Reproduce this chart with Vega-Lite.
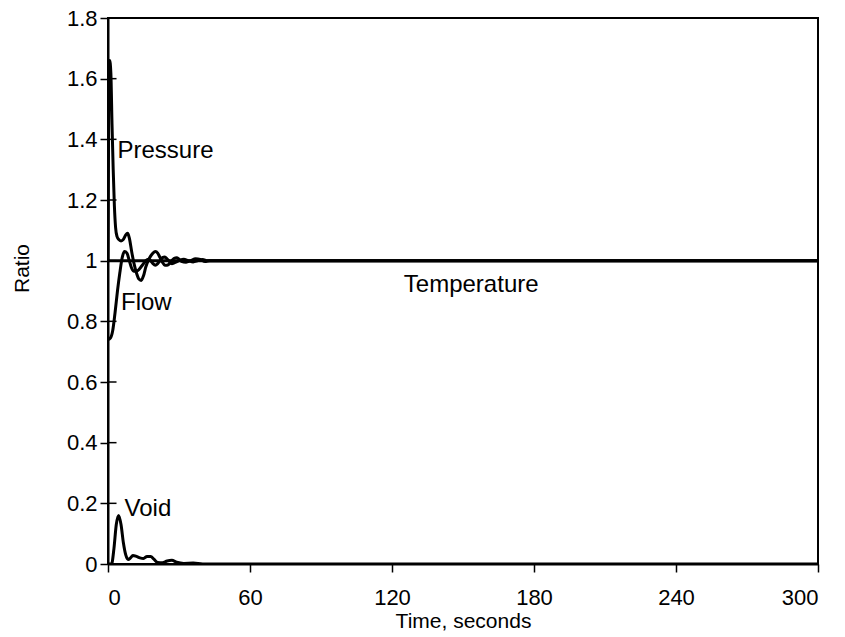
{
  "$schema": "https://vega.github.io/schema/vega-lite/v6.json",
  "width": 710,
  "height": 546,
  "autosize": "none",
  "padding": {"left": 108, "top": 18, "right": 27, "bottom": 73},
  "background": "white",
  "config": {
    "font": "Liberation Sans",
    "view": {"stroke": "black", "strokeWidth": 2},
    "axis": {"grid": false, "domainColor": "black", "domainWidth": 2, "tickColor": "black", "tickWidth": 1.5, "labelColor": "black", "titleColor": "black", "labelFont": "Liberation Sans", "titleFont": "Liberation Sans", "labelFontSize": 22, "titleFontSize": 21, "titleFontWeight": "normal"}
  },
  "datasets": {
    "curves": [
      {"series": "Temperature", "t": 0, "v": 1.0},
      {"series": "Temperature", "t": 300, "v": 1.0},
      {"series": "Pressure", "t": 0, "v": 1.0},
      {"series": "Pressure", "t": 0.3, "v": 1.5},
      {"series": "Pressure", "t": 0.7, "v": 1.66},
      {"series": "Pressure", "t": 1.2, "v": 1.62},
      {"series": "Pressure", "t": 1.7, "v": 1.45},
      {"series": "Pressure", "t": 2.2, "v": 1.3},
      {"series": "Pressure", "t": 2.7, "v": 1.18},
      {"series": "Pressure", "t": 3.2, "v": 1.11},
      {"series": "Pressure", "t": 3.8, "v": 1.08},
      {"series": "Pressure", "t": 4.5, "v": 1.07},
      {"series": "Pressure", "t": 5.5, "v": 1.065},
      {"series": "Pressure", "t": 6.5, "v": 1.07},
      {"series": "Pressure", "t": 7.5, "v": 1.085},
      {"series": "Pressure", "t": 8.3, "v": 1.09},
      {"series": "Pressure", "t": 9, "v": 1.075},
      {"series": "Pressure", "t": 10, "v": 1.03},
      {"series": "Pressure", "t": 11, "v": 0.99},
      {"series": "Pressure", "t": 12, "v": 0.96},
      {"series": "Pressure", "t": 13, "v": 0.94},
      {"series": "Pressure", "t": 14, "v": 0.935},
      {"series": "Pressure", "t": 15, "v": 0.95},
      {"series": "Pressure", "t": 16, "v": 0.98},
      {"series": "Pressure", "t": 17, "v": 1.0},
      {"series": "Pressure", "t": 18, "v": 1.015},
      {"series": "Pressure", "t": 19, "v": 1.025},
      {"series": "Pressure", "t": 20, "v": 1.03},
      {"series": "Pressure", "t": 21, "v": 1.025},
      {"series": "Pressure", "t": 22, "v": 1.01},
      {"series": "Pressure", "t": 23, "v": 0.995},
      {"series": "Pressure", "t": 24, "v": 0.985},
      {"series": "Pressure", "t": 25, "v": 0.985},
      {"series": "Pressure", "t": 26, "v": 0.99},
      {"series": "Pressure", "t": 27, "v": 1.0},
      {"series": "Pressure", "t": 28, "v": 1.008},
      {"series": "Pressure", "t": 29, "v": 1.01},
      {"series": "Pressure", "t": 30, "v": 1.005},
      {"series": "Pressure", "t": 31, "v": 0.998},
      {"series": "Pressure", "t": 33, "v": 0.995},
      {"series": "Pressure", "t": 35, "v": 1.0},
      {"series": "Pressure", "t": 37, "v": 1.006},
      {"series": "Pressure", "t": 39, "v": 1.004},
      {"series": "Pressure", "t": 41, "v": 0.997},
      {"series": "Pressure", "t": 43, "v": 1.0},
      {"series": "Pressure", "t": 300, "v": 1.0},
      {"series": "Flow", "t": 0, "v": 0.74},
      {"series": "Flow", "t": 1, "v": 0.745},
      {"series": "Flow", "t": 2, "v": 0.77},
      {"series": "Flow", "t": 3, "v": 0.83},
      {"series": "Flow", "t": 4, "v": 0.9},
      {"series": "Flow", "t": 5, "v": 0.96},
      {"series": "Flow", "t": 6, "v": 1.01},
      {"series": "Flow", "t": 7, "v": 1.03},
      {"series": "Flow", "t": 8, "v": 1.025},
      {"series": "Flow", "t": 9, "v": 1.0},
      {"series": "Flow", "t": 10, "v": 0.975},
      {"series": "Flow", "t": 11, "v": 0.965},
      {"series": "Flow", "t": 12, "v": 0.965},
      {"series": "Flow", "t": 13, "v": 0.97},
      {"series": "Flow", "t": 14, "v": 0.98},
      {"series": "Flow", "t": 15, "v": 0.99},
      {"series": "Flow", "t": 16, "v": 1.0},
      {"series": "Flow", "t": 17, "v": 1.005},
      {"series": "Flow", "t": 18, "v": 1.0},
      {"series": "Flow", "t": 19, "v": 0.99},
      {"series": "Flow", "t": 20, "v": 0.985},
      {"series": "Flow", "t": 21, "v": 0.99},
      {"series": "Flow", "t": 22, "v": 1.0},
      {"series": "Flow", "t": 23, "v": 1.01},
      {"series": "Flow", "t": 24, "v": 1.012},
      {"series": "Flow", "t": 25, "v": 1.005},
      {"series": "Flow", "t": 26, "v": 0.997},
      {"series": "Flow", "t": 27, "v": 0.99},
      {"series": "Flow", "t": 28, "v": 0.993},
      {"series": "Flow", "t": 30, "v": 1.0},
      {"series": "Flow", "t": 32, "v": 1.005},
      {"series": "Flow", "t": 34, "v": 1.0},
      {"series": "Flow", "t": 36, "v": 0.996},
      {"series": "Flow", "t": 38, "v": 1.0},
      {"series": "Flow", "t": 40, "v": 1.004},
      {"series": "Flow", "t": 42, "v": 1.0},
      {"series": "Flow", "t": 300, "v": 1.0},
      {"series": "Void", "t": 0, "v": 0},
      {"series": "Void", "t": 1.5, "v": 0},
      {"series": "Void", "t": 2.5, "v": 0.05},
      {"series": "Void", "t": 3.5, "v": 0.13},
      {"series": "Void", "t": 4.5, "v": 0.16},
      {"series": "Void", "t": 5.5, "v": 0.13},
      {"series": "Void", "t": 6.5, "v": 0.07},
      {"series": "Void", "t": 7.5, "v": 0.03},
      {"series": "Void", "t": 8.5, "v": 0.015},
      {"series": "Void", "t": 9.5, "v": 0.02},
      {"series": "Void", "t": 10.5, "v": 0.028},
      {"series": "Void", "t": 12, "v": 0.025},
      {"series": "Void", "t": 13.5, "v": 0.02},
      {"series": "Void", "t": 15, "v": 0.018},
      {"series": "Void", "t": 16.5, "v": 0.025},
      {"series": "Void", "t": 18, "v": 0.025},
      {"series": "Void", "t": 19.5, "v": 0.015},
      {"series": "Void", "t": 21, "v": 0.005},
      {"series": "Void", "t": 23, "v": 0.004},
      {"series": "Void", "t": 25, "v": 0.01},
      {"series": "Void", "t": 27, "v": 0.012},
      {"series": "Void", "t": 29, "v": 0.006},
      {"series": "Void", "t": 32, "v": 0.002},
      {"series": "Void", "t": 36, "v": 0.003},
      {"series": "Void", "t": 40, "v": 0},
      {"series": "Void", "t": 300, "v": 0}
    ],
    "labels": [
      {"label": "Pressure", "t": 4, "v": 1.36},
      {"label": "Flow", "t": 5.5, "v": 0.86},
      {"label": "Void", "t": 7, "v": 0.18},
      {"label": "Temperature", "t": 125, "v": 0.92}
    ],
    "yticks": [
      {"v": 0}, {"v": 0.2}, {"v": 0.4}, {"v": 0.6}, {"v": 0.8}, {"v": 1}, {"v": 1.2}, {"v": 1.4}, {"v": 1.6}, {"v": 1.8}
    ]
  },
  "layer": [
    {
      "data": {"name": "curves"},
      "mark": {"type": "line", "interpolate": "monotone", "stroke": "black", "strokeWidth": 3, "clip": true},
      "encoding": {
        "x": {"field": "t", "type": "quantitative", "scale": {"domain": [0, 300], "nice": false},
          "axis": {"values": [0, 60, 120, 180, 240, 300], "title": "Time, seconds", "tickSize": 8, "labelPadding": 15, "titlePadding": 2, "labelExpr": "'' + datum.value"}},
        "y": {"field": "v", "type": "quantitative", "scale": {"domain": [0, 1.8], "nice": false},
          "axis": {"values": [0, 0.2, 0.4, 0.6, 0.8, 1, 1.2, 1.4, 1.6, 1.8], "title": "Ratio", "tickSize": 8, "labelPadding": 3, "titleX": -86, "titleY": 250, "titleBaseline": "middle", "labelExpr": "'' + datum.value"}},
        "detail": {"field": "series"}
      }
    },
    {
      "data": {"name": "yticks"},
      "mark": {"type": "rule", "stroke": "black", "strokeWidth": 1.5},
      "encoding": {
        "y": {"field": "v", "type": "quantitative"},
        "x": {"datum": 0, "type": "quantitative"},
        "x2": {"datum": 3.6}
      }
    },
    {
      "data": {"name": "labels"},
      "mark": {"type": "text", "align": "left", "baseline": "middle", "fontSize": 24, "font": "Liberation Sans", "color": "black"},
      "encoding": {
        "x": {"field": "t", "type": "quantitative"},
        "y": {"field": "v", "type": "quantitative"},
        "text": {"field": "label"}
      }
    }
  ]
}
